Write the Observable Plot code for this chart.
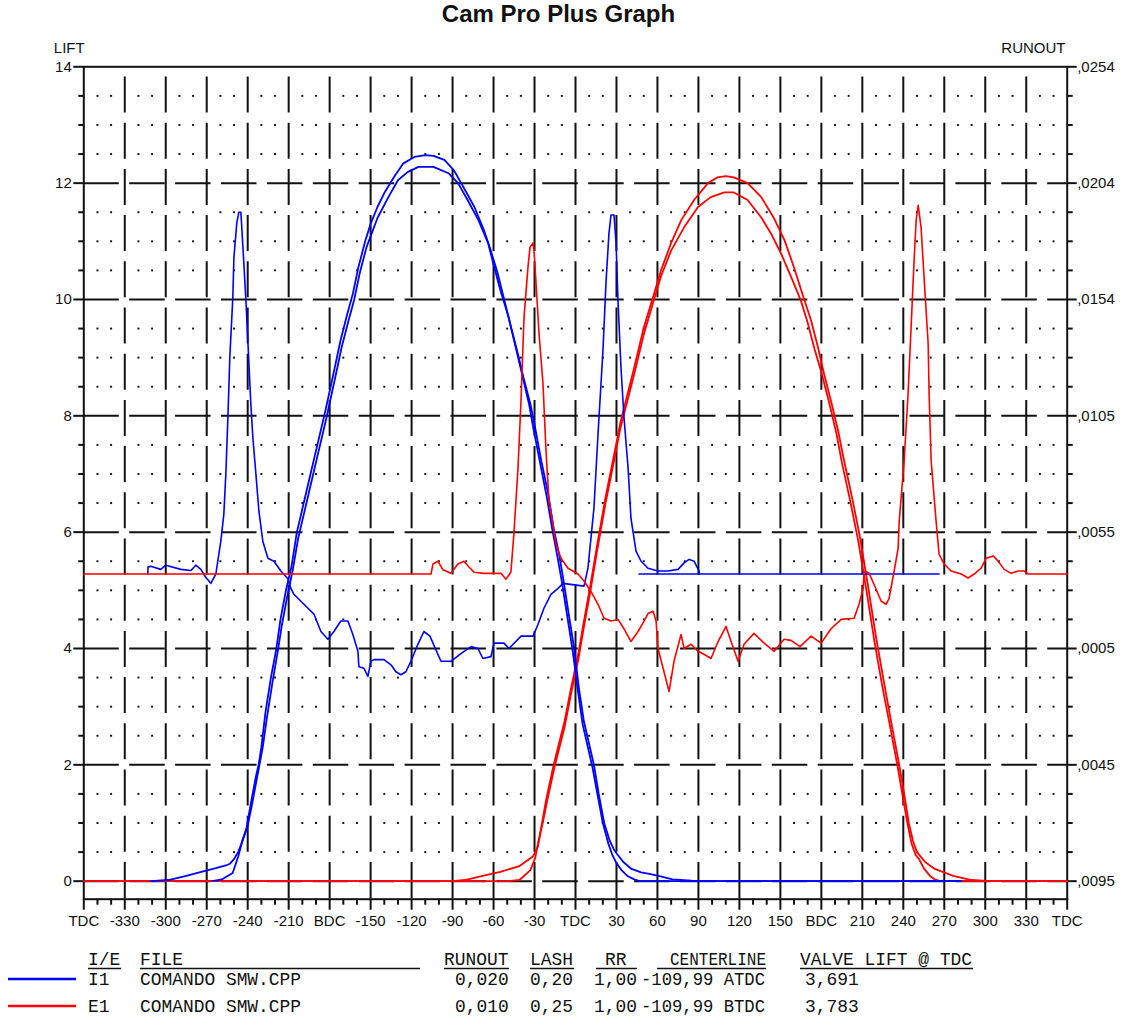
<!DOCTYPE html>
<html><head><meta charset="utf-8">
<script src="https://cdn.jsdelivr.net/npm/d3@7"></script>
<script src="https://cdn.jsdelivr.net/npm/@observablehq/plot@0.6"></script>
<style>
html,body{margin:0;padding:0;background:#fff;}
body{width:1127px;height:1021px;overflow:hidden;font-family:"Liberation Sans",Arial,sans-serif;}
#title{height:36px;line-height:37px;text-align:center;padding-right:10px;font:bold 24px "Liberation Sans",Arial,sans-serif;color:#111;}
#chart svg,#legend svg{display:block;}
</style></head><body>
<div id="title">Cam Pro Plus Graph</div>
<div id="chart"></div>
<div id="legend"></div>
<script>
// ---------- axes / ticks ----------
const liftTicks = [0, 2, 4, 6, 8, 10, 12, 14];
const liftLabels = ["0", "2", "4", "6", "8", "10", "12", "14"];
const runoutLabels = [",0095", ",0045", ",0005", ",0055", ",0105", ",0154", ",0204", ",0254"];
const runoutAtLiftZero = -0.0096;   // runout value on the lift 0 line
const runoutPerLift = 0.0025;       // runout per lift unit
const angleTicks = [-360,-330,-300,-270,-240,-210,-180,-150,-120,-90,-60,-30,0,30,60,90,120,150,180,210,240,270,300,330,360];
const angleLabels = ["TDC","-330","-300","-270","-240","-210","BDC","-150","-120","-90","-60","-30","TDC","30","60","90","120","150","BDC","210","240","270","300","330","TDC"];
const angleMinor = d3.range(-350, 360, 10).filter(d => d % 30 !== 0);
const liftMinor = d3.range(0.5, 14, 0.5).filter(d => d % 2 !== 0);
const angleGrid = angleTicks.slice(1, -1);
const liftGrid = liftTicks.slice(0, -1);

// ---------- intake (I1, blue) valve lift, two traces [deg, lift] ----------
const intakeLiftA = [[-311,0],[-298,0.02],[-285,0.09],[-274,0.16],[-264,0.22],[-256,0.27],[-253,0.3],[-250,0.38],[-247,0.5],[-245,0.62],[-241,0.9],[-238,1.3],[-234,1.8],[-232,2.0],[-230,2.3],[-227,2.9],[-223,3.5],[-219,4.0],[-216,4.5],[-212,5.0],[-208,5.4],[-204,6.0],[-201,6.3],[-194,7.0],[-188,7.6],[-183,8.1],[-177,8.75],[-172,9.3],[-167,9.76],[-163,10.1],[-159,10.55],[-154,11.0],[-150,11.3],[-145,11.59],[-140,11.83],[-133,12.1],[-126,12.34],[-118,12.45],[-110,12.48],[-104,12.47],[-96,12.4],[-89,12.22],[-82,11.93],[-74,11.59],[-67,11.19],[-62,10.84],[-57,10.45],[-52,9.98],[-47,9.5],[-42,9.05],[-38,8.65],[-33,8.2],[-30,7.85],[-25,7.22],[-20,6.66],[-16,6.07],[-12,5.62],[-9,5.2],[-5,4.6],[-1,4.0],[2.6,3.3],[6.2,2.74],[13.5,2.0],[17,1.5],[21,1.0],[25,0.7],[28,0.55],[30,0.48],[35,0.33],[41,0.21],[48,0.15],[55,0.12],[63,0.08],[71,0.03],[85,0.01],[98,0],[282,0]];
const intakeLiftB = [[-266,0],[-259,0.03],[-251,0.14],[-247,0.42],[-244,0.68],[-240,0.95],[-237,1.3],[-233,1.8],[-229,2.3],[-226,2.8],[-222,3.4],[-218,3.95],[-215,4.4],[-211,4.9],[-207,5.35],[-203,5.9],[-200,6.2],[-193,6.9],[-187,7.5],[-182,8.0],[-176,8.65],[-171,9.2],[-166,9.65],[-162,10.0],[-158,10.45],[-153,10.9],[-149,11.15],[-145,11.4],[-137,11.76],[-130,12.05],[-123,12.19],[-115,12.28],[-104,12.28],[-93,12.17],[-86,12.0],[-79,11.71],[-71,11.36],[-64,10.97],[-60,10.6],[-55,10.16],[-49,9.7],[-44,9.2],[-39,8.7],[-34,8.2],[-31,7.8],[-26,7.2],[-21,6.6],[-17,6.05],[-13,5.55],[-10,5.15],[-6,4.55],[-2,3.95],[1.6,3.3],[5.2,2.7],[12.5,1.95],[16,1.5],[20,1.0],[24,0.65],[27,0.45],[30,0.31],[34,0.18],[38,0.09],[43,0.03],[47,0],[282,0]];

// ---------- exhaust (E1, red) valve lift, two traces [deg, lift] ----------
const exhaustLiftA = [[-360,0],[-90,0],[-81,0.02],[-68,0.09],[-55,0.16],[-41,0.26],[-31,0.43],[-27.5,0.6],[-24.5,1.0],[-21.5,1.4],[-16,2.0],[-8,2.75],[-3,3.35],[2,3.9],[6,4.45],[11,5.1],[16,5.8],[22,6.6],[28,7.3],[33,7.9],[43,8.83],[50,9.52],[57.5,10.1],[62.6,10.5],[70,10.97],[77.3,11.36],[86.8,11.71],[97,12.0],[104,12.1],[110,12.12],[116,12.1],[126,12.0],[136,11.76],[145,11.41],[153,11.02],[160,10.55],[167,10.03],[172.5,9.64],[177.6,9.17],[182,8.72],[187,8.26],[192.3,7.74],[196,7.3],[202,6.65],[208,5.95],[214,5.1],[220,4.2],[226,3.4],[231,2.75],[237,2.0],[241,1.45],[244,1.0],[247,0.7],[250,0.5],[256,0.33],[263,0.21],[276.5,0.09],[290,0.02],[304,0],[360,0]];
const exhaustLiftB = [[-360,0],[-49,0],[-41,0.02],[-33,0.19],[-29.5,0.4],[-27,0.7],[-24,1.0],[-21,1.35],[-15.5,1.95],[-8,2.65],[-3,3.25],[2,3.8],[6,4.35],[11,5.0],[16,5.7],[22,6.5],[28,7.2],[33,7.8],[43,8.72],[50,9.4],[57.5,10.0],[62.6,10.4],[70,10.84],[79.5,11.24],[89.7,11.59],[99,11.76],[109,11.84],[116,11.84],[126,11.71],[136,11.41],[143,11.14],[150.5,10.79],[158,10.38],[165,9.98],[170,9.6],[175,9.15],[180,8.75],[186,8.2],[191,7.7],[195,7.2],[201,6.55],[207,5.85],[213,5.0],[219,4.1],[225,3.3],[230,2.7],[236,1.95],[240,1.4],[243,1.0],[246,0.65],[249,0.45],[251.6,0.38],[255,0.22],[259.6,0.09],[263,0.03],[267,0],[360,0]];

// ---------- runout traces [deg, runout] ----------
const intakeRunout = [[-313.1,0.0036],[-313,0.0039],[-311,0.00393],[-303.6,0.0038],[-300,0.00398],[-289,0.0038],[-281.6,0.00375],[-278,0.00398],[-274.3,0.0038],[-270.6,0.00345],[-267,0.0032],[-263.3,0.0036],[-261.9,0.00415],[-259.7,0.005],[-257.5,0.00615],[-256,0.0079],[-254.5,0.01033],[-253.1,0.0129],[-250.9,0.01548],[-250.1,0.0172],[-248,0.01868],[-246.5,0.01915],[-245,0.01915],[-243.5,0.01765],[-241.3,0.01535],[-239.1,0.01265],[-237.7,0.0109],[-236.2,0.00945],[-234,0.0079],[-231.8,0.0063],[-228.9,0.005],[-225.2,0.00428],[-220.8,0.00415],[-215.7,0.00373],[-210.6,0.0034],[-208.4,0.00298],[-206.2,0.00273],[-195.9,0.00213],[-191.5,0.00188],[-186.4,0.00113],[-181.3,0.0008],[-176.9,0.00113],[-171.8,0.00158],[-166.6,0.00158],[-163,0.001],[-159.3,0.00028],[-158.6,-0.00038],[-154.9,-0.00045],[-152,-0.0008],[-149.8,-0.00015],[-147.6,-0.00008],[-140.3,-0.00008],[-135.1,-0.0003],[-131.5,-0.0006],[-127.8,-0.00073],[-124.2,-0.0006],[-120.5,-0.00015],[-115.4,0.00058],[-111,0.00113],[-106.6,0.00093],[-98.5,-0.00015],[-91.2,-0.00015],[-83.9,0.00018],[-76.5,0.00048],[-71.4,0.0004],[-67.8,-0.00003],[-61.9,0.00005],[-59.7,0.00063],[-52.4,0.00063],[-48.7,0.0004],[-39.9,0.00093],[-31.1,0.00093],[-27.5,0.00143],[-23.1,0.00213],[-18,0.00273],[-12.8,0.00298],[-9.2,0.0032],[6.2,0.00308],[9.1,0.00385],[13.5,0.00643],[16.5,0.00963],[20.1,0.0132],[22.3,0.0161],[24.5,0.01825],[26,0.01903],[28.2,0.01903],[29.7,0.01783],[31.1,0.01535],[33.3,0.01248],[35.5,0.01033],[38.5,0.00815],[40.6,0.006],[44.3,0.00458],[48,0.00415],[53.1,0.00385],[60.4,0.00373],[67.7,0.00373],[75.1,0.0038],[79.5,0.00408],[83.2,0.00423],[86.8,0.00415],[90.5,0.00373],[90.6,0.0036]];
const intakeRunoutBase = [[46.5,0.0036],[266.2,0.0036]];
const exhaustRunout = [[-360,0.0036],[-105.8,0.0036],[-104.4,0.00403],[-100.7,0.00415],[-97,0.00378],[-91.2,0.00363],[-86.1,0.00403],[-81.7,0.00415],[-78,0.0039],[-74.3,0.00368],[-67,0.00363],[-54.6,0.00363],[-50.9,0.00338],[-47.3,0.00368],[-45.1,0.00533],[-42.1,0.00815],[-39.9,0.01105],[-37.7,0.01463],[-34.8,0.01678],[-33.3,0.01765],[-31.1,0.01783],[-30.4,0.01753],[-28.9,0.0161],[-26.7,0.01393],[-23.8,0.01178],[-21.6,0.0089],[-19.4,0.00673],[-16.5,0.00575],[-14.3,0.00488],[-10.6,0.00428],[-5.5,0.00385],[1.8,0.0036],[6.2,0.0033],[11.3,0.00285],[16.5,0.0023],[20.9,0.0017],[26,0.00158],[31.1,0.00165],[35.5,0.00125],[40.6,0.0007],[45.8,0.00113],[50.2,0.00158],[53.1,0.0019],[56.8,0.002],[59,0.00158],[60.4,0.0004],[64.8,-0.0006],[68.5,-0.00145],[72.1,-0.00015],[77.3,0.001],[79.5,0.0004],[84.6,0.00058],[89.7,0.00028],[94.1,0.00015],[99.2,-0.00003],[104.4,0.0007],[110.2,0.00135],[113.9,0.0007],[119,-0.00015],[123.4,0.00058],[130.7,0.00105],[138.1,0.00063],[145.4,0.00028],[152.7,0.0008],[157.8,0.00075],[164.4,0.00048],[172.5,0.00093],[179.8,0.00063],[187.1,0.00125],[194.5,0.00165],[204,0.0017],[207.6,0.0023],[210.6,0.00298],[211.3,0.00373],[215,0.00363],[218.6,0.00315],[223.8,0.00243],[227.4,0.0023],[229.6,0.00255],[233.3,0.00373],[236.2,0.0047],[237,0.00588],[240.6,0.00845],[243.5,0.01135],[245.7,0.0142],[247.9,0.01708],[249.4,0.0188],[250.9,0.01945],[253,0.0185],[255.2,0.01635],[258.2,0.0135],[258.9,0.01135],[260.4,0.00845],[264,0.00588],[266.2,0.00445],[269.9,0.00403],[275,0.00373],[282.4,0.0036],[287.5,0.00343],[291.9,0.0036],[297,0.00385],[300.7,0.00428],[305.8,0.00438],[309.5,0.00415],[313.9,0.0038],[319,0.00363],[324.1,0.00373],[328.5,0.00373],[331.4,0.0036],[360,0.0036]];

// ---------- legend table ----------
const legendHeader = [
  {text: "I/E", x: 88, ul: [88, 121]},
  {text: "FILE", x: 140, ul: [140, 420]},
  {text: "RUNOUT", x: 444, ul: [444, 509]},
  {text: "LASH", x: 530, ul: [530, 574]},
  {text: "RR", x: 605, ul: [596, 637]},
  {text: "CENTERLINE", x: 670, w: 96, ul: [657, 766]},
  {text: "VALVE LIFT @ TDC", x: 800, w: 172, ul: [800, 973]}
];
const legendRows = [
  {color: "#0000ff", cells: [["I1", 88], ["COMANDO SMW.CPP", 140], ["0,020", 455], ["0,20", 530], ["1,00", 594], ["-109,99 ATDC", 641, 124], ["3,691", 805]]},
  {color: "#ff0000", cells: [["E1", 88], ["COMANDO SMW.CPP", 140], ["0,010", 455], ["0,25", 530], ["1,00", 594], ["-109,99 BTDC", 641, 124], ["3,783", 805]]}
];

// ---------- plot ----------
const fromRunout = r => (r - runoutAtLiftZero) / runoutPerLift;
const minorDots = angleMinor.flatMap(a => liftMinor.map(l => [a, l]));
const X = d => d[0], Y = d => d[1], YR = d => fromRunout(d[1]);
const labelOf = (ticks, labels) => d => labels[ticks.indexOf(d)];

const plot = Plot.plot({
  width: 1127, height: 900,
  marginLeft: 83.3, marginRight: 60.3, marginTop: 30.3, marginBottom: 37.3,
  x: {domain: [-360, 360], label: null},
  y: {domain: [-0.31, 14], label: null},
  style: {fontFamily: "'Liberation Sans', Arial, sans-serif", fontSize: "15px", color: "#111", background: "#fff"},
  marks: [
    Plot.dot(minorDots, {x: X, y: Y, r: 1.1, symbol: "square", fill: "#111", stroke: null}),
    Plot.ruleX(angleGrid, {stroke: "#111", strokeWidth: 2, strokeDasharray: "36,10.2", strokeDashoffset: 36}),
    Plot.ruleY(liftGrid, {stroke: "#111", strokeWidth: 2, strokeDasharray: "35.5,10.4"}),
    Plot.frame({stroke: "#111", strokeWidth: 2}),
    Plot.axisY(liftTicks, {anchor: "left", tickSize: 10, tickPadding: 2, strokeWidth: 2, tickFormat: labelOf(liftTicks, liftLabels), label: null, fontSize: 15}),
    Plot.axisY(liftMinor, {anchor: "left", tickSize: 5, strokeWidth: 2, tickFormat: () => "", label: null}),
    Plot.axisY(liftTicks, {anchor: "right", tickSize: 9, tickPadding: 1, strokeWidth: 2, tickFormat: labelOf(liftTicks, runoutLabels), label: null, fontSize: 15}),
    Plot.axisY(liftMinor, {anchor: "right", tickSize: 5, strokeWidth: 2, tickFormat: () => "", label: null}),
    Plot.axisX(angleTicks, {anchor: "bottom", tickSize: 11, tickPadding: 5, strokeWidth: 2, tickFormat: labelOf(angleTicks, angleLabels), label: null, fontSize: 15}),
    Plot.axisX(angleMinor, {anchor: "bottom", tickSize: 6, strokeWidth: 2, tickFormat: () => "", label: null}),
    Plot.text(["LIFT"], {frameAnchor: "top-left", lineAnchor: "middle", dx: -30, dy: -18.5, textAnchor: "start", fontSize: 15, fill: "#111"}),
    Plot.text(["RUNOUT"], {frameAnchor: "top-right", lineAnchor: "middle", dx: -1.7, dy: -18.5, textAnchor: "end", fontSize: 15, fill: "#111"}),
    // exhaust lift
    Plot.line(exhaustLiftA, {x: X, y: Y, stroke: "#ff0000", strokeWidth: 1.8}),
    Plot.line(exhaustLiftB, {x: X, y: Y, stroke: "#ff0000", strokeWidth: 1.8}),
    // intake lift
    Plot.line(intakeLiftA, {x: X, y: Y, stroke: "#0000ff", strokeWidth: 1.8}),
    Plot.line(intakeLiftB, {x: X, y: Y, stroke: "#0000ff", strokeWidth: 1.8}),
    // runout
    Plot.line(intakeRunoutBase, {x: X, y: YR, stroke: "#0000ff", strokeWidth: 1.6}),
    Plot.line(intakeRunout, {x: X, y: YR, stroke: "#0000ff", strokeWidth: 1.6}),
    Plot.line(exhaustRunout, {x: X, y: YR, stroke: "#ff0000", strokeWidth: 1.6})
  ]
});
document.getElementById("chart").appendChild(plot);

// ---------- legend drawing ----------
const lg = d3.select("#legend").append("svg").attr("width", 1127).attr("height", 85);
const mono = "'Liberation Mono', 'Courier New', monospace";
function cell(x, y, t, w) {
  const el = lg.append("text").attr("x", x).attr("y", y).attr("font-family", mono).attr("font-size", 17.9).attr("fill", "#111").text(t);
  if (w) el.attr("textLength", w).attr("lengthAdjust", "spacingAndGlyphs");
}
legendHeader.forEach(h => {
  cell(h.x, 29, h.text, h.w);
  lg.append("line").attr("x1", h.ul[0]).attr("x2", h.ul[1]).attr("y1", 32.5).attr("y2", 32.5).attr("stroke", "#111").attr("stroke-width", 1.6);
});
legendRows.forEach((row, i) => {
  const base = 49 + i * 27;
  lg.append("line").attr("x1", 8).attr("x2", 76).attr("y1", base - 6).attr("y2", base - 6).attr("stroke", row.color).attr("stroke-width", 2.5);
  row.cells.forEach(([t, x, w]) => cell(x, base, t, w));
});
</script>
</body></html>
